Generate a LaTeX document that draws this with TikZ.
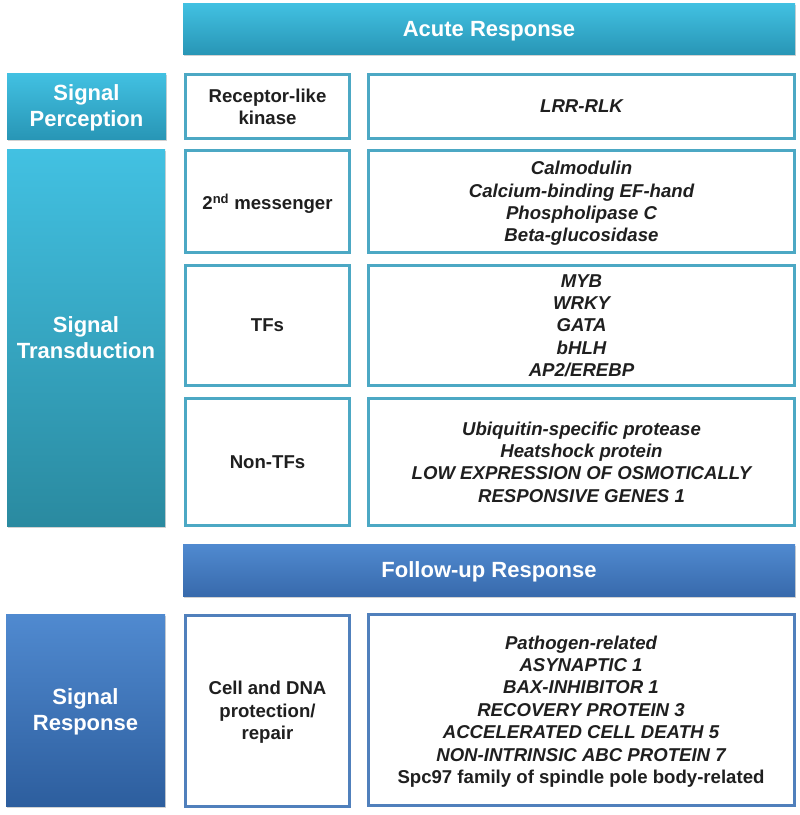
\documentclass[tikz,border=0pt]{standalone}
\usepackage{fontspec}
\setmainfont{Liberation Sans}
\usetikzlibrary{shadows}
\definecolor{tealtop}{RGB}{66,193,226}
\definecolor{tealbot}{RGB}{40,150,182}
\definecolor{transbot}{RGB}{42,138,160}
\definecolor{tealline}{RGB}{76,168,196}
\definecolor{bluetop}{RGB}{80,138,208}
\definecolor{bluebot}{RGB}{56,106,172}
\definecolor{respbot}{RGB}{45,94,158}
\definecolor{blueline}{RGB}{80,128,188}
\tikzset{
  hdr/.style={rectangle, draw=none, text=white, align=center, text depth=0pt,
    font=\fontsize{22}{26}\selectfont\bfseries,
    drop shadow={opacity=0.35, shadow xshift=1pt, shadow yshift=-2pt}},
  tealhdr/.style={hdr, top color=tealtop, bottom color=tealbot},
  transhdr/.style={hdr, top color=tealtop, bottom color=transbot},
  bluehdr/.style={hdr, top color=bluetop, bottom color=bluebot},
  resphdr/.style={hdr, top color=bluetop, bottom color=respbot},
  cell/.style={rectangle, fill=white, line width=3pt, align=center, text=black!88,
    font=\fontsize{18.6}{22.4}\selectfont\bfseries, inner sep=2pt, text depth=0pt},
  tealcell/.style={cell, draw=tealline},
  bluecell/.style={cell, draw=blueline},
  gene/.style={font=\fontsize{18.6}{22.4}\selectfont\bfseries\itshape}
}
\begin{document}
\begin{tikzpicture}[x=1pt,y=-1pt]
\useasboundingbox[fill=white] (0,0) rectangle (800,815);
% headers
\node[tealhdr, minimum width=612pt, minimum height=51pt] (acute) at (489,28.5) {Acute Response};
\node[tealhdr, minimum width=159pt, minimum height=66pt] (perc) at (86.5,106) {Signal\\Perception};
\node[transhdr, minimum width=158pt, minimum height=377pt] (trans) at (86,337.5) {Signal\\Transduction};
\node[bluehdr, minimum width=612pt, minimum height=52pt] (follow) at (489,570) {Follow-up Response};
\node[resphdr, minimum width=159pt, minimum height=192pt] (resp) at (85.5,710) {Signal\\Response};
% left cells
\node[tealcell, minimum width=164pt, minimum height=64pt] (rlk) at (267.5,106.5) {Receptor-like\\kinase};
\node[tealcell, minimum width=164pt, minimum height=102pt] (msg) at (267.5,201.5) {2\textsuperscript{nd} messenger};
\node[tealcell, minimum width=164pt, minimum height=120pt] (tfs) at (267.5,325.5) {TFs};
\node[tealcell, minimum width=164pt, minimum height=127pt] (ntfs) at (267.5,462) {Non-TFs};
\node[bluecell, minimum width=164pt, minimum height=191pt] (cdna) at (267.5,710.5) {Cell and DNA\\protection/\\repair};
% right cells
\node[tealcell, gene, minimum width=426pt, minimum height=64pt] (lrr) at (581.5,106.5) {LRR-RLK};
\node[tealcell, gene, minimum width=426pt, minimum height=102pt] (msgr) at (581.5,201.5) {Calmodulin\\Calcium-binding EF-hand\\Phospholipase C\\Beta-glucosidase};
\node[tealcell, gene, minimum width=426pt, minimum height=120pt] (tfsr) at (581.5,325.5) {MYB\\WRKY\\GATA\\bHLH\\AP2/EREBP};
\node[tealcell, gene, minimum width=426pt, minimum height=127pt] (ntfsr) at (581.5,462) {Ubiquitin-specific protease\\Heatshock protein\\LOW EXPRESSION OF OSMOTICALLY\\RESPONSIVE GENES 1};
\node[bluecell, gene, minimum width=426pt, minimum height=191pt] (respr) at (581,709.5) {Pathogen-related\\ASYNAPTIC 1\\BAX-INHIBITOR 1\\RECOVERY PROTEIN 3\\ACCELERATED CELL DEATH 5\\NON-INTRINSIC ABC PROTEIN 7\\{\upshape Spc97 family of spindle pole body-related}};
\end{tikzpicture}
\end{document}
